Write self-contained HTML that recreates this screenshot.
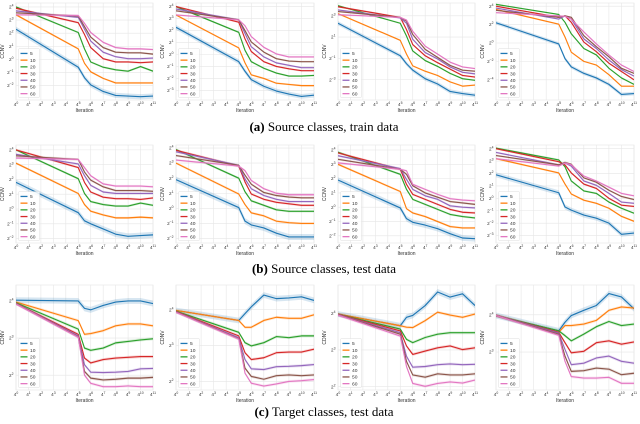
<!DOCTYPE html>
<html><head><meta charset="utf-8"><style>
html,body{margin:0;padding:0;background:#fff;}
svg{display:block;}
text{font-family:"Liberation Sans",sans-serif;fill:#333;}
.cap{font-family:"Liberation Serif",serif;font-size:13px;fill:#000;}
</style></head><body>
<svg id="fig" width="640" height="424" viewBox="0 0 640 424" xmlns="http://www.w3.org/2000/svg">
<text class="cap" x="324" y="131" text-anchor="middle"><tspan font-weight="bold">(a)</tspan> Source classes, train data</text>
<text class="cap" x="324" y="273" text-anchor="middle"><tspan font-weight="bold">(b)</tspan> Source classes, test data</text>
<text class="cap" x="324" y="416" text-anchor="middle"><tspan font-weight="bold">(c)</tspan> Target classes, test data</text>
</svg>
<script>
const iterations = [0,5,5.5,6,7,8,9,10,11];
const xTicks = [0,1,2,3,4,5,6,7,8,9,10,11];
const seriesNames = ['5','10','20','30','40','50','60'];
const seriesColors = ['#1f77b4','#ff7f0e','#2ca02c','#d62728','#9467bd','#8c564b','#e377c2'];

const trainP1 = [[2.3,-0.6,-1.4,-1.95,-2.45,-2.75,-2.8,-2.85,-2.8],[3.4,0.8,-0.3,-0.95,-1.45,-1.8,-1.8,-1.8,-1.8],[4.0,2.05,0.8,-0.2,-0.6,-0.8,-0.9,-0.55,-0.9],[3.9,2.8,1.9,0.9,0.05,-0.2,-0.2,-0.25,-0.2],[3.7,3.2,2.3,1.4,0.55,0.2,0.05,0.05,0.1],[3.55,3.3,2.5,1.7,0.9,0.55,0.5,0.5,0.4],[3.4,3.35,2.75,2.05,1.3,0.9,0.8,0.8,0.75]];
const trainP2 = [[2.27,-0.6,-1.4,-2.1,-2.65,-3.05,-3.3,-3.5,-3.4],[3.3,0.55,-0.7,-1.7,-2.0,-2.4,-2.5,-2.6,-2.6],[4.0,1.85,0.35,-0.6,-1.15,-1.55,-1.8,-1.8,-1.75],[4.0,2.7,1.3,0.25,-0.6,-1.0,-1.2,-1.35,-1.35],[3.8,2.9,1.75,0.65,-0.2,-0.7,-0.9,-1.1,-1.1],[3.65,2.9,2.0,1.05,0.2,-0.35,-0.55,-0.6,-0.6],[3.3,2.9,2.4,1.5,0.6,0.05,-0.2,-0.2,-0.2]];
const trainP3 = [[2.3,-0.75,-1.5,-2.1,-2.9,-3.4,-4.1,-4.3,-4.45],[3.2,0.7,-0.6,-1.7,-2.2,-2.6,-3.2,-3.6,-3.5],[3.95,2.3,1.1,-0.3,-1.2,-1.75,-2.4,-2.9,-3.05],[3.85,2.85,1.7,0.3,-0.75,-1.4,-2.0,-2.6,-2.75],[3.55,2.8,2.3,0.8,-0.45,-1.05,-1.8,-2.3,-2.45],[3.4,2.85,2.5,1.25,-0.15,-0.9,-1.65,-2.1,-2.2],[3.1,2.85,2.6,1.55,0.15,-0.6,-1.35,-1.8,-1.95]];
const trainP4 = [[2.2,-0.1,-1.7,-2.6,-3.3,-3.8,-4.5,-5.6,-5.5],[3.65,2.05,0.65,-1.0,-2.0,-2.4,-3.45,-4.7,-4.7],[4.2,3.1,2.25,1.0,-0.6,-1.3,-2.75,-3.8,-4.5],[4.0,2.8,2.95,2.25,0.1,-0.95,-2.2,-3.1,-4.0],[3.8,2.6,2.95,2.6,0.45,-0.6,-1.85,-2.9,-3.6],[3.55,2.8,2.95,2.8,0.8,-0.4,-1.5,-2.75,-3.3],[3.3,2.95,2.9,2.6,1.2,-0.1,-1.3,-2.4,-3.1]];
const testP1 = [[1.8,-0.25,-0.8,-1.0,-1.35,-1.7,-1.85,-1.8,-1.75],[3.1,1.05,0.3,-0.15,-0.4,-0.6,-0.6,-0.55,-0.6],[4.0,2.05,1.05,0.5,0.3,0.2,0.2,0.4,0.25],[4.0,2.8,1.8,1.15,0.8,0.7,0.7,0.65,0.75],[3.7,3.05,2.25,1.6,1.15,1.05,1.05,1.05,1.05],[3.6,3.35,2.5,1.95,1.5,1.25,1.25,1.25,1.2],[3.45,3.35,2.8,2.25,1.7,1.55,1.55,1.55,1.5]];
const testP2 = [[1.9,0.05,-0.85,-1.1,-1.3,-1.65,-1.9,-1.9,-1.9],[3.0,0.95,0.25,-0.3,-0.5,-0.85,-0.95,-1.0,-1.0],[3.9,2.0,1.1,0.5,0.2,-0.1,-0.2,-0.2,-0.2],[3.85,2.8,1.75,0.95,0.6,0.4,0.3,0.2,0.2],[3.75,2.85,1.95,1.3,0.85,0.6,0.45,0.45,0.45],[3.5,2.85,2.2,1.6,1.05,0.85,0.75,0.7,0.7],[3.2,2.8,2.5,1.85,1.3,1.0,0.9,0.9,0.9]];
const testP3 = [[1.9,-0.05,-0.8,-1.05,-1.25,-1.5,-1.85,-2.15,-2.2],[3.0,1.1,-0.1,-0.4,-0.65,-1.0,-1.35,-1.45,-1.45],[3.85,2.3,1.25,0.55,0.2,-0.15,-0.5,-0.65,-0.75],[3.8,2.65,1.6,0.9,0.55,0.2,-0.15,-0.35,-0.4],[3.6,2.7,1.95,1.25,0.8,0.55,0.1,0.0,-0.05],[3.35,2.65,2.3,1.5,1.0,0.7,0.4,0.3,0.2],[3.1,2.65,2.55,1.6,1.25,0.9,0.6,0.5,0.45]];
const testP4 = [[1.9,0.45,-0.7,-0.95,-1.35,-1.6,-2.0,-2.9,-2.8],[3.2,2.05,1.15,0.35,-0.15,-0.4,-0.8,-1.45,-1.85],[4.05,3.1,2.55,1.4,0.6,0.4,-0.3,-0.8,-1.2],[4.0,2.95,2.7,2.05,1.15,0.8,0.0,-0.55,-0.65],[3.7,2.7,2.85,2.6,1.4,1.05,0.4,-0.3,-0.4],[3.45,2.7,2.9,2.75,1.65,1.3,0.65,0.15,-0.1],[3.2,2.6,2.85,2.7,1.8,1.4,0.9,0.4,0.2]];
const targetP1 = [[4.02,4.0,3.8,3.76,3.88,3.97,4.0,4.0,3.93],[3.97,3.47,3.1,3.12,3.2,3.33,3.38,3.38,3.33],[3.95,3.24,2.73,2.67,2.73,2.87,2.91,2.95,2.98],[3.93,3.1,2.46,2.33,2.42,2.46,2.48,2.5,2.5],[3.93,3.06,2.28,2.08,2.07,2.08,2.1,2.17,2.18],[3.93,3.03,2.1,1.92,1.87,1.89,1.92,1.92,1.94],[3.92,3.02,2.0,1.78,1.69,1.69,1.71,1.69,1.69]];
const targetP2 = [[3.98,3.7,3.89,4.08,4.41,4.31,4.33,4.36,4.26],[3.98,3.7,3.51,3.51,3.7,3.79,3.76,3.76,3.86],[3.96,3.37,3.08,2.99,3.08,3.25,3.22,3.27,3.27],[3.95,3.27,2.8,2.61,2.66,2.8,2.82,2.82,2.9],[3.94,3.22,2.61,2.35,2.33,2.41,2.42,2.44,2.47],[3.94,3.19,2.37,2.14,2.06,2.16,2.18,2.16,2.18],[3.93,3.18,2.23,1.95,1.87,1.93,2.0,2.02,2.05]];
const targetP3 = [[3.98,3.66,3.89,3.94,4.21,4.58,4.44,4.53,4.21],[3.98,3.66,3.62,3.61,3.8,4.03,3.95,3.89,3.98],[3.97,3.57,3.29,3.2,3.34,3.43,3.47,3.47,3.47],[3.97,3.52,3.11,2.88,2.97,3.06,3.11,3.01,3.06],[3.96,3.47,2.83,2.53,2.55,2.6,2.62,2.6,2.61],[3.96,3.43,2.69,2.32,2.26,2.35,2.32,2.32,2.35],[3.95,3.38,2.55,2.09,2.01,2.09,2.13,2.1,2.18]];
const targetP4 = [[3.98,3.57,3.8,3.98,4.12,4.25,4.57,4.48,4.16],[3.98,3.53,3.71,3.71,3.75,3.85,4.12,4.21,4.18],[3.98,3.57,3.44,3.3,3.48,3.68,3.82,3.71,3.75],[3.98,3.53,3.25,2.98,3.02,3.25,3.3,3.21,3.27],[3.98,3.51,3.07,2.66,2.7,2.84,2.89,2.75,2.7],[3.98,3.48,2.89,2.48,2.5,2.57,2.54,2.39,2.43],[3.98,3.45,2.75,2.34,2.3,2.3,2.32,2.16,2.16]];

const yTicksA1=[4,3,2,1,0,-1,-2], yTicksA2=[4,3,2,1,0,-1,-2,-3], yTicksA3=[3,1,-1,-3], yTicksA4=[4,2,0,-2,-4];
const yTicksB1=[4,3,2,1,0,-1,-2], yTicksB2=[4,3,2,1,0,-1,-2], yTicksB3=[4,3,2,1,0,-1,-2], yTicksB4=[4,3,2,1,0,-1,-2,-3];
const yTicksC1=[4,3,2], yTicksC2=[4,3,2], yTicksC3=[4,3,2], yTicksC4=[4,3];
const yRanges = [[-3.1,4.3],[-3.8,4.3],[-4.9,4.2],[-6.2,4.35],[-2.3,4.33],[-2.3,4.2],[-2.5,4.35],[-3.6,4.3],[1.6,4.43],[1.76,4.69],[1.91,4.77],[1.98,4.8]];

const NS='http://www.w3.org/2000/svg';
const svg=document.getElementById('fig');
function mk(tag,attrs,parent){const e=document.createElementNS(NS,tag);for(const k in attrs)e.setAttribute(k,attrs[k]);(parent||svg).appendChild(e);return e;}
function powLabel(g,x,y,exp,anchor){
  const t=mk('text',{x:x,y:y,'font-size':4.6,'text-anchor':anchor},g);
  
  
  t.appendChild(document.createTextNode(''+exp.base));
  const s=mk('tspan',{dy:-2,'font-size':3.4},t);
  s.textContent=exp.e;
  return t;
}
const colsX=[[16,153],[176,314],[338,475],[496,634]];
const rowsY=[[3,100],[145,243],[285,390]];
const panels=[trainP1,trainP2,trainP3,trainP4,testP1,testP2,testP3,testP4,targetP1,targetP2,targetP3,targetP4];
const yTickSets=[yTicksA1,yTicksA2,yTicksA3,yTicksA4,yTicksB1,yTicksB2,yTicksB3,yTicksB4,yTicksC1,yTicksC2,yTicksC3,yTicksC4];

panels.forEach((data,pi)=>{
  const r=Math.floor(pi/4), c=pi%4;
  const [x0,x1]=colsX[c], [y0,y1]=rowsY[r];
  const [ymin,ymax]=yRanges[pi];
  const X=v=>x0+(v-xTicks[0])/(xTicks[xTicks.length-1]-xTicks[0])*(x1-x0);
  const Y=v=>y1-(v-ymin)/(ymax-ymin)*(y1-y0);
  const g=mk('g',{});
  
  
  const clipId='clip'+pi;
  const cp=mk('clipPath',{id:clipId},g);mk('rect',{x:x0,y:y0,width:x1-x0,height:y1-y0},cp);
  const bg=mk('rect',{x:x0,y:y0,width:x1-x0,height:y1-y0,fill:'#fff',stroke:'#e4e4e4','stroke-width':0.6},g);
  
  
  xTicks.forEach(t=>{
    const gl=mk('line',{x1:X(t),x2:X(t),y1:y0,y2:y1,stroke:'#e6e6e6','stroke-width':0.6},g);
    
    
    powLabel(g,X(t),y1+6,{base:4,e:t},'middle');
  });
  yTickSets[pi].forEach(t=>{
    const gl=mk('line',{x1:x0,x2:x1,y1:Y(t),y2:Y(t),stroke:'#e6e6e6','stroke-width':0.6},g);
    
    
    powLabel(g,x0-2.5,Y(t)+1.6,{base:2,e:(t<0?'\u2212'+(-t):''+t)},'end');
  });
  const xl=mk('text',{x:(x0+x1)/2,y:y1+12,'font-size':5,'text-anchor':'middle'},g);
  
  
  xl.textContent='Iteration';
  const cy=(y0+y1)/2;
  const yl=mk('text',{x:x0-12,y:cy,'font-size':5,'text-anchor':'middle',transform:'rotate(-90 '+(x0-12)+' '+cy+')'},g);
  
  
  yl.textContent=r===2?'CDNV':'CCNV';
  const pg=mk('g',{'clip-path':'url(#'+clipId+')'},g);
  data.forEach((vals,si)=>{
    const bw=(si===0?(r===2?0.08:0.2):(r===2?0.04:0.08));
    let up=vals.map((v,i)=>X(iterations[i])+','+Y(v+bw)).join(' ');
    let dn=vals.map((v,i)=>X(iterations[i])+','+Y(v-bw)).reverse().join(' ');
    const band=mk('polygon',{points:up+' '+dn,fill:seriesColors[si],'fill-opacity':0.18,stroke:'none'},pg);
    
    
    const ln=mk('polyline',{points:vals.map((v,i)=>X(iterations[i])+','+Y(v)).join(' '),fill:'none',stroke:seriesColors[si],'stroke-width':1.15,'stroke-linejoin':'round'},pg);
    
    
  });
  const lh=6.7, lx=x0+2.5, lyTop=y1-3-seriesNames.length*lh-1.5;
  const lg=mk('g',{},g);
  
  
  mk('rect',{x:lx,y:lyTop,width:21,height:seriesNames.length*lh+2,fill:'#fff','fill-opacity':0.85,stroke:'#ddd','stroke-width':0.5,rx:1},lg);
  seriesNames.forEach((n,si)=>{
    const yy=lyTop+1.5+lh*si+lh/2;
    const e=mk('g',{},lg);
    
    
    mk('line',{x1:lx+2,x2:lx+9,y1:yy,y2:yy,stroke:seriesColors[si],'stroke-width':1.3},e);
    const tx=mk('text',{x:lx+11.5,y:yy+1.7,'font-size':4.9},e);
    tx.textContent=n;
  });
});
</script>
</body></html>
